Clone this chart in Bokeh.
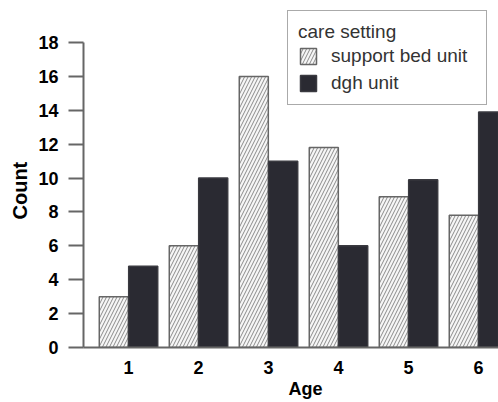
from bokeh.plotting import figure
from bokeh.models import Range1d, FixedTicker, Title, Legend, LegendItem, ColumnDataSource
from bokeh.transform import dodge
from bokeh.embed import file_html
from bokeh.resources import INLINE

# data
ages = [1, 2, 3, 4, 5, 6]
support_bed_unit = [3, 6, 16, 11.8, 8.9, 7.8]
dgh_unit = [4.8, 10, 11, 6, 9.9, 13.9]
y_ticks = [0, 2, 4, 6, 8, 10, 12, 14, 16, 18]
legend_title = "care setting"
series_names = ["support bed unit", "dgh unit"]
x_title = "Age"
y_title = "Count"

src = ColumnDataSource(dict(age=ages, support=support_bed_unit, dgh=dgh_unit))

p = figure(width=498, height=402, output_backend="svg", toolbar_location=None,
           x_range=Range1d(0.357, 6.286), y_range=Range1d(0, 20.01),
           min_border_left=83, min_border_right=0, min_border_top=8, min_border_bottom=55)
p.background_fill_color = "white"
p.border_fill_color = "white"
p.outline_line_color = None
p.grid.grid_line_color = None

r1 = p.vbar(x=dodge("age", -0.21, range=p.x_range), top="support", width=0.415, source=src,
            fill_color="#f6f6f6", line_color="#666666", line_width=1.5,
            hatch_pattern="/", hatch_color="#8a8a8a", hatch_scale=7, hatch_weight=1)
r2 = p.vbar(x=dodge("age", 0.21, range=p.x_range), top="dgh", width=0.415, source=src,
            fill_color="#2a2a32", line_color="#3a3a40", line_width=1.5)

# axes
ya = p.yaxis[0]
ya.ticker = FixedTicker(ticks=y_ticks)
ya.bounds = (0, 18)
ya.axis_line_color = "#666666"
ya.axis_line_width = 2
ya.major_tick_line_color = "#666666"
ya.major_tick_line_width = 2
ya.major_tick_out = 15
ya.major_tick_in = 0
ya.minor_tick_line_color = None
ya.major_label_standoff = 10
ya.major_label_text_font = "Liberation Sans"
ya.major_label_text_font_style = "bold"
ya.major_label_text_font_size = "18px"
ya.major_label_text_color = "black"

xa = p.xaxis[0]
xa.ticker = FixedTicker(ticks=ages)
xa.axis_line_color = "#666666"
xa.axis_line_width = 2
xa.major_tick_out = 0
xa.major_tick_in = 0
xa.minor_tick_line_color = None
xa.major_label_standoff = 13
xa.major_label_text_font = "Liberation Sans"
xa.major_label_text_font_style = "bold"
xa.major_label_text_font_size = "18px"
xa.major_label_text_color = "black"

# axis titles as side titles (allow off-centre placement like the reference)
p.add_layout(Title(text=x_title, align="left", offset=205, standoff=0,
                   text_font="Liberation Sans", text_font_style="bold",
                   text_font_size="18px", text_color="black"), "below")
p.add_layout(Title(text=y_title, align="left", offset=128, standoff=10,
                   text_font="Liberation Sans", text_font_style="bold",
                   text_font_size="20px", text_color="black"), "left")

legend = Legend(items=[LegendItem(label=series_names[0], renderers=[r1]),
                       LegendItem(label=series_names[1], renderers=[r2])],
                location=(204, 242), title=legend_title)
legend.border_line_color = "#555555"
legend.border_line_width = 1.5
legend.background_fill_color = "white"
legend.background_fill_alpha = 1
legend.padding = 10
legend.margin = 0
legend.spacing = 5
legend.glyph_width = 20
legend.glyph_height = 20
legend.label_standoff = 13
legend.label_width = 145
legend.title_standoff = 2
legend.label_text_font = "Liberation Sans"
legend.label_text_font_size = "19px"
legend.label_text_color = "#333333"
legend.title_text_font = "Liberation Sans"
legend.title_text_font_size = "19px"
legend.title_text_font_style = "normal"
legend.title_text_color = "#333333"
p.add_layout(legend, "center")

open("out.html", "w").write(file_html(p, INLINE))
